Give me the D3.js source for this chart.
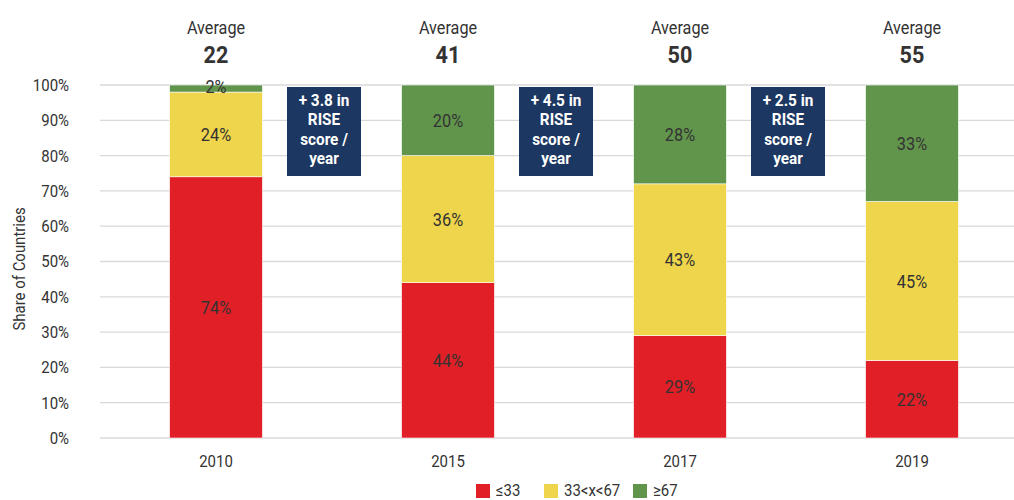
<!DOCTYPE html>
<html><head><meta charset="utf-8">
<script src="https://cdn.jsdelivr.net/npm/d3@7"></script>
<style>
body{margin:0;background:#fff;}
text{font-family:Roboto,"Noto Sans",sans-serif;fill:#333;}
</style></head>
<body><svg id="c" width="1014" height="500"></svg>
<script>
const years = ["2010","2015","2017","2019"];
const averages = [22, 41, 50, 55];
const low = [74, 44, 29, 22];
const mid = [24, 36, 43, 45];
const high = [2, 20, 28, 33];
const seriesNames = ["≤33", "33<x<67", "≥67"];
const colors = ["#e01f26", "#efd54b", "#62954c"];
const yTicks = [0,10,20,30,40,50,60,70,80,90,100];
const annotations = ["+ 3.8 in", "+ 4.5 in", "+ 2.5 in"];

const svg = d3.select("#c");
const x = d3.scaleBand().domain(years).range([100, 1028]).paddingInner(0.6).paddingOuter(0.3);
const y = d3.scaleLinear().domain([0, 100]).range([438, 85]);

// condensed-looking text helper
function txt(g, px, py, s, o) {
  o = o || {};
  const t = g.append("text")
    .attr("transform", `translate(${px},${py})${o.rot ? " rotate(" + o.rot + ")" : ""} scale(${o.sx || 0.88},1)`)
    .attr("dy", "0.35em")
    .attr("text-anchor", o.anchor || "middle")
    .style("font-size", (o.size || 17) + "px")
    .text(s);
  if (o.weight) t.style("font-weight", o.weight);
  if (o.fill) t.style("fill", o.fill);
  return t;
}

// gridlines
svg.append("g").selectAll("line").data(yTicks).join("line")
  .attr("x1", 100).attr("x2", 1014)
  .attr("y1", d => y(d)).attr("y2", d => y(d))
  .attr("stroke", "#d9d9d9").attr("stroke-width", 1.3);

// y tick labels
const gy = svg.append("g");
yTicks.forEach(d => txt(gy, 69, y(d), d + "%", {anchor: "end", size: 17}));

txt(svg, 19, 269, "Share of Countries", {rot: -90, size: 17});

const data = years.map((yr, i) => ({year: yr, s0: low[i], s1: mid[i], s2: high[i]}));
const stack = d3.stack().keys(["s0","s1","s2"])(data);

stack.forEach((layer, k) => {
  const g = svg.append("g");
  g.selectAll("rect").data(layer).join("rect")
    .attr("x", d => x(d.data.year)).attr("width", x.bandwidth())
    .attr("y", d => y(d[1])).attr("height", d => y(d[0]) - y(d[1]))
    .attr("fill", colors[k]).attr("stroke", "#fff").attr("stroke-width", 0.6);
  layer.forEach(d => {
    txt(g, x(d.data.year) + x.bandwidth()/2,
        (y(d[0]) + y(d[1]))/2 - (d[1]-d[0] < 4 ? 2.5 : 0),
        Math.round(d[1]-d[0]) + "%", {size: 19, sx: 0.86});
  });
});

// year labels
const gx = svg.append("g");
years.forEach(d => txt(gx, x(d) + x.bandwidth()/2, 461, d, {size: 17}));

// averages
years.forEach((yr, i) => {
  const cx = x(yr) + x.bandwidth()/2;
  txt(svg, cx, 28, "Average", {size: 18, sx: 0.9});
  txt(svg, cx, 55, averages[i], {size: 24, weight: "bold", sx: 0.9});
});

// annotation boxes
annotations.forEach((a, i) => {
  const cx = (x(years[i]) + x(years[i+1]) + x.bandwidth())/2 - 8;
  svg.append("rect").attr("x", cx - 37).attr("y", 87).attr("width", 74).attr("height", 89).attr("fill", "#1c3761");
  [a, "RISE", "score /", "year"].forEach((t, j) => {
    txt(svg, cx, 100 + j*19.3, t, {size: 17, weight: "bold", fill: "#fff", sx: 0.9});
  });
});

// legend
const legX = [476, 544, 633];
seriesNames.forEach((n, i) => {
  svg.append("rect").attr("x", legX[i]).attr("y", 484).attr("width", 14).attr("height", 14).attr("fill", colors[i]);
  txt(svg, legX[i] + 20, 490, n, {anchor: "start", size: 17});
});
</script></body></html>
